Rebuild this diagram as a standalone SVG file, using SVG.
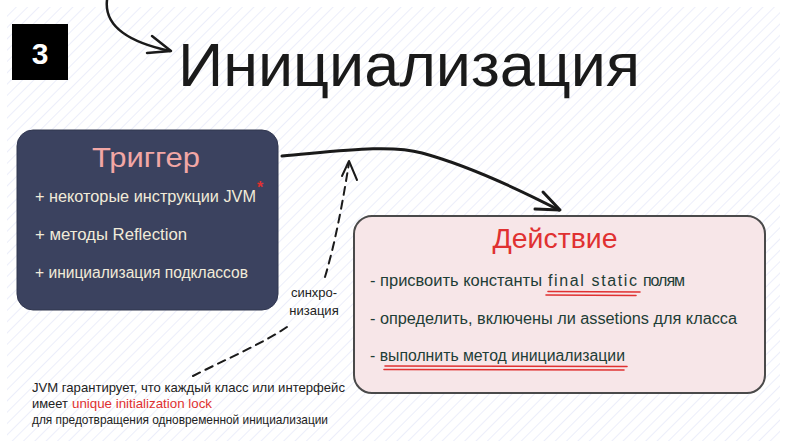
<svg xmlns="http://www.w3.org/2000/svg" width="796" height="441" viewBox="0 0 796 441">
<defs>
<pattern id="hatch" patternUnits="userSpaceOnUse" width="8" height="8" patternTransform="rotate(45)">
<line x1="0" y1="0" x2="0" y2="8" stroke="#eceefa" stroke-width="2"/>
</pattern>
<style>
.hand{font-family:"Liberation Sans","Noto Sans",sans-serif}
.trig{fill:#f1ebd9;font-size:16px}
.act{fill:#1e3d36;font-size:16px}
.note{fill:#222;font-size:13px}
.red{fill:#e03131}
.ul{stroke:#e03131;stroke-width:1.6;fill:none;stroke-linecap:round}
.ink{stroke:#1a1a1a;fill:none;stroke-linecap:round;stroke-linejoin:round}
</style>
</defs>
<rect x="0" y="0" width="796" height="441" fill="#ffffff"/>
<rect x="7" y="7" width="773" height="434" fill="url(#hatch)"/>

<g id="badge">
<rect x="12" y="24" width="56" height="56" fill="#000"/>
<text x="40" y="64" text-anchor="middle" class="hand" font-size="30" font-weight="bold" fill="#fff">3</text>
</g>

<g id="title">
<text x="178" y="86" class="hand" font-size="62" fill="#1a1a1a" textLength="462" lengthAdjust="spacingAndGlyphs">Инициализация</text>
</g>

<g id="trigger">
<rect x="17" y="130" width="261" height="180" rx="16" fill="#3b425f" stroke="#30364f" stroke-width="1"/>
<text x="146" y="167" text-anchor="middle" class="hand" font-size="28" fill="#f2a7a5" textLength="108" lengthAdjust="spacingAndGlyphs">Триггер</text>
<text x="35" y="202" class="hand trig" textLength="221" lengthAdjust="spacingAndGlyphs">+ некоторые инструкции JVM</text>
<text x="257" y="193" class="hand red" font-size="16" font-weight="bold">*</text>
<text x="35" y="240" class="hand trig" textLength="152" lengthAdjust="spacingAndGlyphs">+ методы Reflection</text>
<text x="35" y="278" class="hand trig" textLength="213" lengthAdjust="spacingAndGlyphs">+ инициализация подклассов</text>
</g>

<g id="action">
<rect x="354" y="216" width="411" height="177" rx="18" fill="#f7e6e8" stroke="#4a4a4a" stroke-width="2"/>
<text x="555" y="248" text-anchor="middle" class="hand red" font-size="28" textLength="125" lengthAdjust="spacingAndGlyphs">Действие</text>
<text x="370" y="286" class="hand act" textLength="172" lengthAdjust="spacingAndGlyphs">- присвоить константы</text>
<text x="548" y="286" class="hand act" textLength="89" lengthAdjust="spacing">final static</text>
<text x="643" y="286" class="hand act" textLength="42" lengthAdjust="spacing">полям</text>
<path class="ul" d="M548 291.5 L640 292"/>
<path class="ul" d="M546 295 L636 295.5"/>
<text x="370" y="324" class="hand act" textLength="367" lengthAdjust="spacingAndGlyphs">- определить, включены ли assetions для класса</text>
<text x="370" y="361" class="hand act" textLength="255" lengthAdjust="spacingAndGlyphs">- выполнить метод инициализации</text>
<path class="ul" d="M385 366 L627 366.5"/>
<path class="ul" d="M384 369.5 L624 370"/>
</g>

<g id="note">
<text x="32" y="392" class="hand note" textLength="313" lengthAdjust="spacingAndGlyphs">JVM гарантирует, что каждый класс или интерфейс</text>
<text x="32" y="408" class="hand note" textLength="36" lengthAdjust="spacingAndGlyphs">имеет</text>
<text x="72" y="408" class="hand note red" textLength="140" lengthAdjust="spacingAndGlyphs">unique initialization lock</text>
<text x="32" y="424" class="hand note" textLength="296" lengthAdjust="spacingAndGlyphs">для предотвращения одновременной инициализации</text>
</g>

<g id="connectors">
<path class="ink" stroke-width="2.5" d="M107 0 C104 26 128 42 170 51"/>
<path class="ink" stroke-width="2.5" d="M152 36 L171 51 L147 53"/>
<path class="ink" stroke-width="3" d="M282 156 C340 151 390 144 422 153 C470 166 520 190 559 210"/>
<path class="ink" stroke-width="3" d="M543 192 L560 210 L535 209"/>
<path class="ink" stroke-width="2" stroke-dasharray="8 6" d="M193 376 C220 362 262 344 287 327"/>
<path class="ink" stroke-width="2" stroke-dasharray="8 6" d="M325 277 C336 240 343 200 349 163"/>
<path class="ink" stroke-width="2" d="M342 176 L349 161 L357 180"/>
<text x="314" y="297" text-anchor="middle" class="hand" font-size="13" fill="#222">синхро-</text>
<text x="314" y="315" text-anchor="middle" class="hand" font-size="13" fill="#222">низация</text>
</g>
</svg>
